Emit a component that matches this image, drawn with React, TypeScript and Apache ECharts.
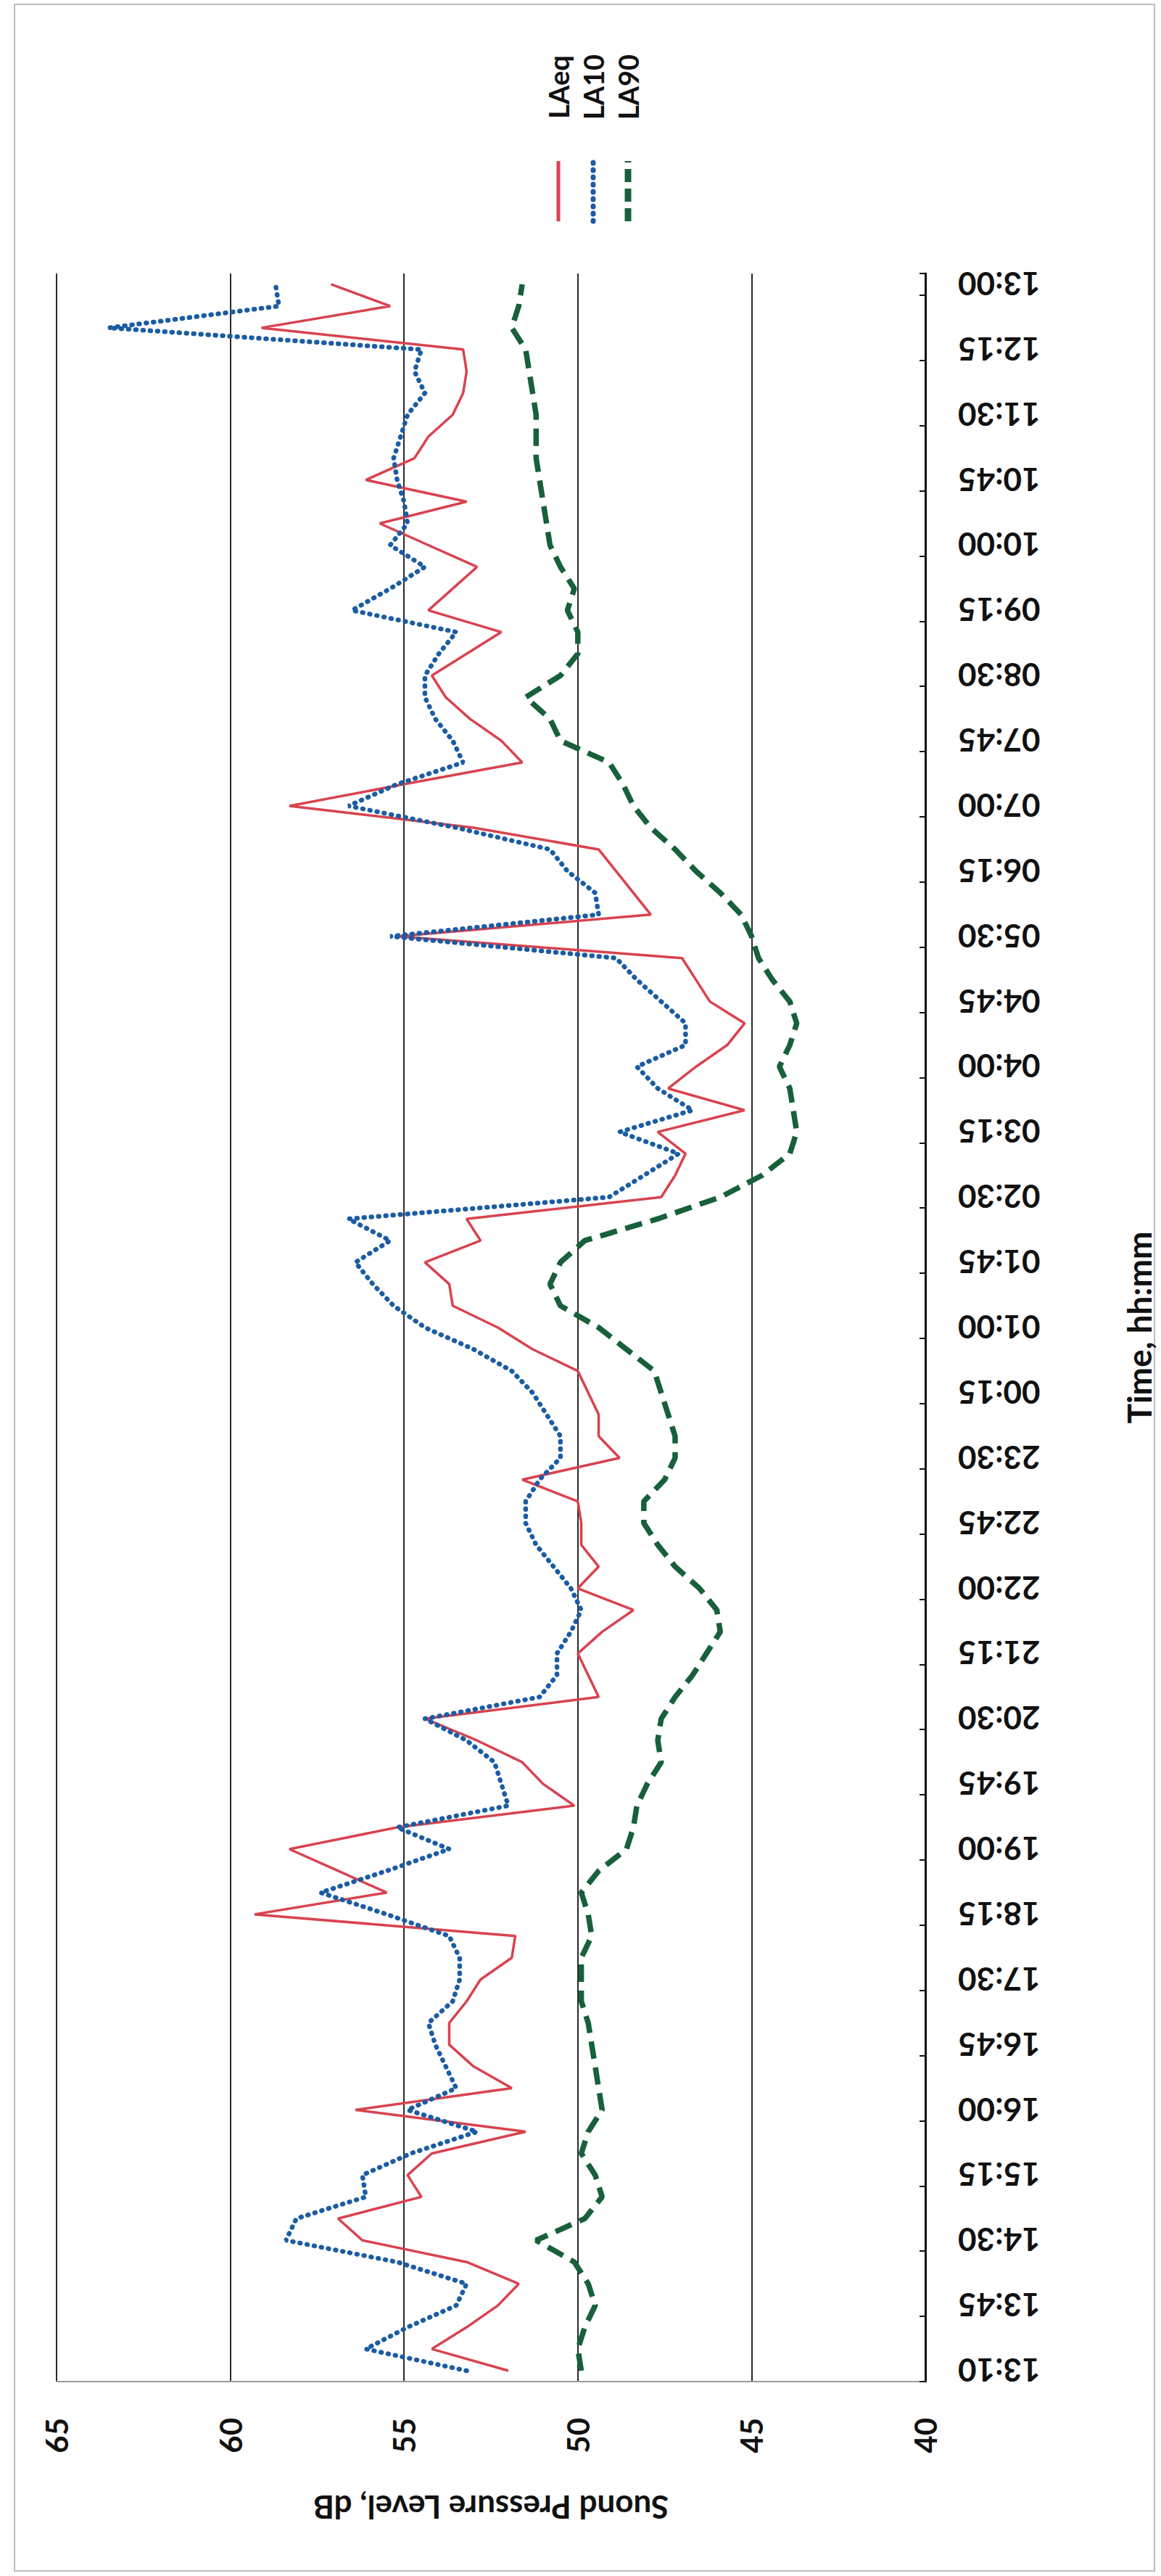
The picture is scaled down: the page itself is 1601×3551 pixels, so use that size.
import React, { useEffect, useRef } from "react";
import * as echarts from "echarts";

// Time categories: first reading 13:10, then every 15 minutes from 13:15 to 13:00 next day
const firstTime = "13:10";
const stepStartMinutes = 13 * 60 + 15;
const stepMinutes = 15;
const stepCount = 96;
const times: string[] = [firstTime];
for (let i = 0; i < stepCount; i++) {
  const m = stepStartMinutes + i * stepMinutes;
  const h = Math.floor(m / 60) % 24;
  const mm = m % 60;
  times.push(`${String(h).padStart(2, "0")}:${String(mm).padStart(2, "0")}`);
}

const seriesNames = ["LAeq", "LA10", "LA90"];

const laeq = [
  52.0, 54.2, 53.2, 52.3, 51.7, 53.2, 56.2, 56.9, 54.5, 54.9,
  54.2, 51.5, 56.4, 51.9, 53.0, 53.7, 53.7, 53.2, 52.8, 51.9,
  51.8, 59.3, 55.5, 56.9, 58.3, 55.2, 50.1, 51.0, 51.6, 52.9,
  54.4, 49.4, 49.7, 50.0, 49.3, 48.4, 50.0, 49.4, 49.9, 49.9,
  50.0, 51.6, 48.8, 49.4, 49.4, 49.7, 50.0, 51.3, 52.3, 53.6,
  53.7, 54.4, 52.8, 53.2, 47.6, 47.2, 46.9, 47.7, 45.2, 47.4,
  46.6, 45.7, 45.2, 46.2, 46.6, 47.0, 55.2, 47.9, 48.4, 48.9,
  49.4, 53.0, 58.3, 55.0, 51.6, 52.2, 53.1, 53.8, 54.2, 53.2,
  52.2, 54.3, 53.6, 52.9, 54.3, 55.7, 53.2, 56.1, 54.7, 54.3,
  53.6, 53.3, 53.2, 53.3, 59.1, 55.4, 57.1,
];

const la10 = [
  53.2, 56.1, 54.9, 53.5, 53.2, 55.2, 58.4, 58.1, 56.1, 56.2,
  54.8, 52.9, 54.9, 53.5, 53.8, 54.1, 54.3, 53.6, 53.4, 53.4,
  53.7, 55.5, 57.4, 55.5, 53.7, 55.2, 52.0, 52.2, 52.4, 53.2,
  54.4, 51.1, 50.6, 50.6, 50.2, 49.9, 50.2, 50.7, 51.2, 51.5,
  51.5, 51.1, 50.5, 50.5, 50.9, 51.3, 51.9, 53.0, 54.4, 55.3,
  55.9, 56.4, 55.4, 56.6, 49.1, 48.1, 47.1, 48.8, 46.7, 47.7,
  48.3, 46.9, 46.9, 47.6, 48.3, 48.9, 55.4, 49.4, 49.5, 50.3,
  50.8, 53.5, 56.6, 55.2, 53.3, 53.6, 54.1, 54.4, 54.4, 54.0,
  53.5, 56.5, 55.4, 54.4, 55.4, 54.9, 55.0, 55.2, 55.3, 55.1,
  54.9, 54.4, 54.7, 54.5, 63.5, 58.6, 58.7,
];

const la90 = [
  49.9, 50.0, 49.8, 49.5, 49.7, 50.1, 51.2, 49.8, 49.3, 49.5,
  49.9, 49.7, 49.3, 49.4, 49.5, 49.6, 49.7, 49.9, 49.9, 49.9,
  49.6, 49.7, 49.9, 49.4, 48.6, 48.4, 48.3, 48.0, 47.6, 47.7,
  47.6, 47.2, 46.7, 46.3, 45.9, 46.0, 46.5, 47.2, 47.7, 48.1,
  48.1, 47.5, 47.2, 47.2, 47.4, 47.6, 47.8, 48.6, 49.4, 50.5,
  50.8, 50.5, 49.8, 47.7, 45.9, 44.7, 43.9, 43.7, 43.8, 43.9,
  44.2, 43.9, 43.7, 43.9, 44.4, 44.8, 45.0, 45.3, 45.9, 46.6,
  47.2, 47.9, 48.4, 48.7, 49.1, 50.5, 50.8, 51.5, 50.5, 50.0,
  50.0, 50.3, 50.1, 50.5, 50.8, 50.9, 51.0, 51.1, 51.2, 51.2,
  51.2, 51.3, 51.4, 51.5, 51.9, 51.7, 51.6,
];

const valueMin = 40;
const valueMax = 65;
const valueStep = 5;

const RED = "#d8434f";
const BLUE = "#1b5ca3";
const GREEN = "#17603a";
const FONT = "Lato, 'Liberation Sans', sans-serif";

export default function App() {
  const ref = useRef<HTMLDivElement>(null);

  useEffect(() => {
    if (!ref.current) return;
    const chart = echarts.init(ref.current, undefined, { renderer: "svg" });

    const redStyle = { color: RED, width: 3.5, type: "solid" as const };
    const blueStyle = { color: BLUE, width: 6.5, type: [1, 9], cap: "round" as const };
    const greenStyle = { color: GREEN, width: 7.5, type: [24, 12] };

    const legendX = [770, 818, 866];
    const legendStyles = [
      { stroke: RED, lineWidth: 5 },
      { stroke: BLUE, lineWidth: 7, lineDash: [1, 9], lineCap: "round" },
      { stroke: GREEN, lineWidth: 9, lineDash: [18, 9] },
    ];

    const graphic: any[] = [
      {
        type: "rect",
        silent: true,
        shape: { x: 20, y: 6, width: 1572, height: 3538 },
        style: { fill: "none", stroke: "#bdbdbd", lineWidth: 2 },
        z: -1,
      },
    ];
    seriesNames.forEach((n, i) => {
      graphic.push({
        type: "line",
        silent: true,
        shape: { x1: legendX[i], y1: 305, x2: legendX[i], y2: 222 },
        style: { ...legendStyles[i], fill: "none" },
      });
      graphic.push({
        type: "text",
        silent: true,
        x: legendX[i],
        y: 120,
        rotation: Math.PI / 2,
        style: {
          text: n,
          fontSize: 38,
          fontWeight: "bold",
          fontFamily: FONT,
          fill: "#111",
          align: "center",
          verticalAlign: "middle",
        },
      });
    });

    chart.setOption({
      animation: false,
      backgroundColor: "#ffffff",
      grid: { left: 78, right: 297, top: 377, bottom: 268, containLabel: false },
      xAxis: {
        type: "value",
        min: valueMin,
        max: valueMax,
        interval: valueStep,
        inverse: true,
        position: "bottom",
        axisLine: { show: true, onZero: false, lineStyle: { color: "#9a9a9a", width: 2 } },
        axisTick: { show: false },
        axisLabel: {
          rotate: 90,
          fontSize: 42,
          fontFamily: FONT,
          fontWeight: "bold",
          color: "#111",
          margin: 50,
        },
        splitLine: { show: true, lineStyle: { color: "#2a2a2a", width: 2 } },
        name: "Suond Pressure Level, dB",
        nameLocation: "middle",
        nameGap: 152,
        nameRotate: 180,
        nameTextStyle: { fontSize: 44, fontWeight: "bold", fontFamily: FONT, color: "#111" },
      },
      yAxis: {
        type: "category",
        data: times,
        position: "right",
        boundaryGap: true,
        axisLine: { show: true, onZero: false, lineStyle: { color: "#111", width: 3 } },
        axisTick: { show: true, inside: true, length: 8, interval: 2, lineStyle: { color: "#111", width: 2 } },
        axisLabel: {
          interval: 2,
          rotate: 180,
          align: "right",
          verticalAlign: "middle",
          fontSize: 44,
          fontFamily: FONT,
          fontWeight: "bold",
          color: "#111",
          margin: 45,
        },
        splitLine: { show: false },
        name: "Time, hh:mm",
        nameLocation: "middle",
        nameGap: 271,
        nameRotate: 90,
        nameTextStyle: { fontSize: 46, fontWeight: "bold", fontFamily: FONT, color: "#111" },
      },
      series: [
        { name: seriesNames[0], type: "line", data: laeq, showSymbol: false, symbol: "none", lineStyle: redStyle, z: 2 },
        { name: seriesNames[1], type: "line", data: la10, showSymbol: false, symbol: "none", lineStyle: blueStyle, z: 3 },
        { name: seriesNames[2], type: "line", data: la90, showSymbol: false, symbol: "none", lineStyle: greenStyle, z: 4 },
      ],
      graphic,
    });

    return () => chart.dispose();
  }, []);

  return (
    <div
      ref={ref}
      style={{ position: "absolute", left: 0, top: 0, width: 1601, height: 3551 }}
    />
  );
}
